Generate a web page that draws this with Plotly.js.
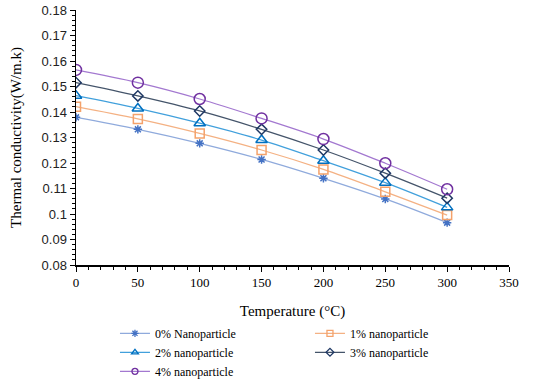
<!DOCTYPE html>
<html><head><meta charset="utf-8">
<script src="https://cdn.plot.ly/plotly-3.0.1.min.js"></script>
<style>html,body{margin:0;padding:0;background:#fff}#c{width:550px;height:381px}</style>
</head><body><div id="c"></div>
<script>
const temps = [0, 50, 100, 150, 200, 250, 300];
const names = ['0% Nanoparticle','1% nanoparticle','2% nanoparticle','3% nanoparticle','4% nanoparticle'];
const np0 = [0.1379, 0.1332, 0.1277, 0.1214, 0.1140, 0.1059, 0.0966];
const np1 = [0.1421, 0.1373, 0.1316, 0.1251, 0.1175, 0.1087, 0.0996];
const np2 = [0.1464, 0.1414, 0.1356, 0.1290, 0.1209, 0.1123, 0.1026];
const np3 = [0.1515, 0.1463, 0.1404, 0.1332, 0.1251, 0.1160, 0.1062];
const np4 = [0.1565, 0.1515, 0.1451, 0.1375, 0.1294, 0.1199, 0.1097];
const series = [np0, np1, np2, np3, np4];
const lineColors = ['#8FAADC','#F4B183','#41A0DC','#44546A','#A378D0'];
const markColors = ['#4472C4','#F4A26B','#0070C0','#1F3864','#7030A0'];
const symbols = ['asterisk-open','square-open','triangle-up-open','diamond-open','circle-open'];
const sizes = [7, 9, 10, 8, 11];

const traces = [];
series.forEach((ys, i) => {
  traces.push({
    x: temps, y: ys, name: names[i], type: 'scatter', mode: 'lines+markers', showlegend: false,
    line: {color: lineColors[i], width: 1.3, shape: 'spline'},
    marker: {symbol: symbols[i], size: sizes[i], color: markColors[i], line: {color: markColors[i], width: 1.5}}
  });
});
// legend-only entries with small markers
series.forEach((ys, i) => {
  traces.push({
    x: [null], y: [null], name: names[i], type: 'scatter', mode: 'lines+markers', showlegend: true,
    line: {color: lineColors[i], width: 1.3},
    marker: {symbol: symbols[i], size: 6, color: markColors[i], line: {color: markColors[i], width: 1.3}}
  });
});

const layout = {
  width: 550, height: 381,
  margin: {l: 76, r: 41, t: 10, b: 116, autoexpand: false},
  paper_bgcolor: '#fff', plot_bgcolor: '#fff',
  showlegend: true,
  xaxis: {
    range: [0, 350], dtick: 50, tick0: 0, showgrid: false, zeroline: false,
    showline: true, linecolor: '#000', linewidth: 1.5,
    ticks: 'outside', ticklen: 5, tickcolor: '#000',
    minor: {dtick: 10, ticks: 'outside', ticklen: 3, tickcolor: '#000'},
    tickfont: {family: 'Liberation Serif', size: 13, color: '#000'},
    title: {text: 'Temperature (°C)', font: {family: 'Liberation Serif', size: 15, color: '#000'}, standoff: 16}
  },
  yaxis: {
    range: [0.08, 0.18], dtick: 0.01, tick0: 0.08, showgrid: false, zeroline: false,
    showline: true, linecolor: '#000', linewidth: 1.5,
    ticks: 'outside', ticklen: 5, tickcolor: '#000',
    minor: {dtick: 0.002, ticks: 'outside', ticklen: 3, tickcolor: '#000'},
    tickfont: {family: 'Liberation Sans', size: 13, color: '#222'},
    tickformat: '.2~f',
    title: {text: 'Thermal conductivity(W/m.k)', font: {family: 'Liberation Serif', size: 15, color: '#000'}, standoff: 16}
  },
  legend: {
    orientation: 'h', x: 0.09, xanchor: 'left', y: -0.211, yanchor: 'top',
    entrywidth: 150, entrywidthmode: 'pixels', tracegroupgap: 0, itemwidth: 30,
    font: {family: 'Liberation Serif', size: 12, color: '#000'}
  }
};
Plotly.newPlot('c', traces, layout, {displayModeBar: false, staticPlot: true});
</script></body></html>
